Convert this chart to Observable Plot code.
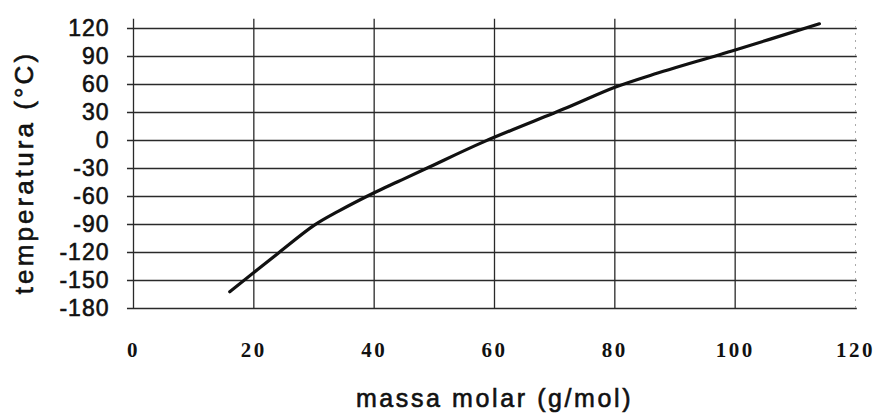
<!DOCTYPE html>
<html>
<head>
<meta charset="utf-8">
<script src="https://cdn.jsdelivr.net/npm/d3@7"></script>
<script src="https://cdn.jsdelivr.net/npm/@observablehq/plot@0.6"></script>
<style>
  html, body { margin: 0; padding: 0; background: #fff; }
  #chart svg { display: block; }
  g[aria-label="x-axis tick label"] { letter-spacing: 2.5px; }
  g[aria-label="y-axis tick label"] { letter-spacing: 1px; stroke: #111; stroke-width: 0.6px; }
</style>
</head>
<body>
<div id="chart"></div>
<script>
// Data
const massa = [16, 24, 30, 34, 40, 44, 49, 58, 72, 80, 86, 100, 114];
const temperatura = [-162, -121, -91, -76, -56, -44, -29, -2, 35, 57, 70, 97, 125];
const yTicks = [-180, -150, -120, -90, -60, -30, 0, 30, 60, 90, 120];
const xTicks = [0, 20, 40, 60, 80, 100, 120];
const xGrid = [0, 20, 40, 60, 80, 100];
const xTitle = "massa molar (g/mol)";
const yTitle = "temperatura (°C)";

const points = massa.map((m, i) => ({m, t: temperatura[i]}));

const chart = Plot.plot({
  width: 878,
  height: 414,
  marginLeft: 133,
  marginRight: 23,
  marginTop: 28,
  marginBottom: 106,
  style: {background: "#fff", color: "#111"},
  x: {domain: [0, 120], ticks: xTicks, label: null},
  y: {domain: [-180, 120], ticks: yTicks, label: null},
  marks: [
    Plot.ruleY(yTicks, {x1: -1, x2: 120.3, stroke: "#2a2a2a", strokeWidth: 1.7}),
    Plot.ruleX(xGrid, {y1: -180, y2: 130, stroke: "#2a2a2a", strokeWidth: 1.3}),
    Plot.ruleX([120], {y1: -180, y2: 128, stroke: "#aaa", strokeWidth: 1, strokeDasharray: "2,5"}),
    Plot.axisY(yTicks, {
      tickSize: 0, tickPadding: 24, tickFormat: d => String(d),
      fontSize: 23, fontFamily: "Liberation Sans, Arial, sans-serif", fill: "#111", label: null
    }),
    Plot.axisX(xTicks, {
      tickSize: 0, tickPadding: 34, tickFormat: d => String(d),
      fontSize: 21, fontFamily: "Liberation Serif, Times New Roman, serif", fontWeight: "bold", fill: "#111", label: null
    }),
    Plot.line(points, {x: "m", y: "t", curve: "catmull-rom", stroke: "#111", strokeWidth: 3.2}),
    Plot.text([xTitle], {
      frameAnchor: "bottom", textAnchor: "middle", lineAnchor: "middle", dy: 90.5,
      fontSize: 25, fill: "#111", fontFamily: "Liberation Sans, Arial, sans-serif"
    }),
    Plot.text([yTitle], {
      frameAnchor: "left", textAnchor: "middle", lineAnchor: "middle", rotate: -90, dx: -108.5, dy: 4,
      fontSize: 26, fill: "#111", fontFamily: "Liberation Sans, Arial, sans-serif"
    })
  ]
});
document.getElementById("chart").appendChild(chart);
// widen and darken title text to match the scanned reference
d3.select(chart).selectAll("text")
  .filter(function() { return this.textContent === xTitle; })
  .style("letter-spacing", "2.6px").style("stroke", "#111").style("stroke-width", "0.6px");
d3.select(chart).selectAll("text")
  .filter(function() { return this.textContent === yTitle; })
  .style("letter-spacing", "3.1px").style("stroke", "#111").style("stroke-width", "0.6px");
</script>
</body>
</html>
